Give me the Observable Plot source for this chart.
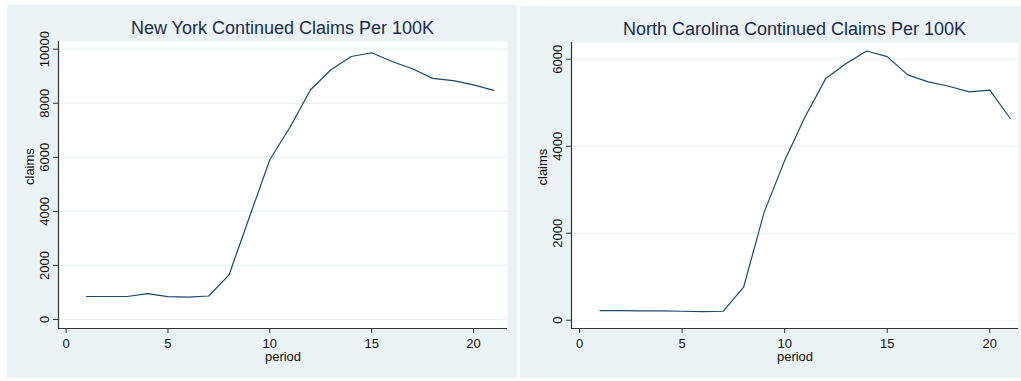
<!DOCTYPE html>
<html>
<head>
<meta charset="utf-8">
<script src="https://cdn.jsdelivr.net/npm/d3@7"></script>
<script src="https://cdn.jsdelivr.net/npm/@observablehq/plot@0.6"></script>
<style>
  body { margin: 0; background: #ffffff; width: 1021px; height: 381px; position: relative; overflow: hidden;
         font-family: "Liberation Sans", Arial, sans-serif; }
  .panel { position: absolute; background: #eaf2f3; }
  .title { position: absolute; font-size: 18px; line-height: 18px; color: #1c2c4f; text-align: center; white-space: nowrap; }
  .chart { position: absolute; left: 0; }
  .chart svg { overflow: visible; }
</style>
</head>
<body>
<div class="panel" style="left:7px;top:5px;width:510px;height:373px">
  <div class="title" style="top:14px;left:51px;width:449px">New York Continued Claims Per 100K</div>
  <div class="chart" id="ny" style="top:31px"></div>
</div>
<div class="panel" style="left:520px;top:6px;width:501px;height:372px">
  <div class="title" style="top:14px;left:51px;width:447px">North Carolina Continued Claims Per 100K</div>
  <div class="chart" id="nc" style="top:30px"></div>
</div>
<script>
// ---- data ----
const period = [1, 2, 3, 4, 5, 6, 7, 8, 9, 10, 11, 12, 13, 14, 15, 16, 17, 18, 19, 20, 21];
const nyClaims = [850, 850, 850, 955, 845, 830, 870, 1650, 3790, 5910, 7120, 8500, 9240, 9730, 9870, 9545, 9275, 8920, 8840, 8680, 8475];
const ncClaims = [222, 220, 217, 213, 207, 200, 206, 763, 2480, 3670, 4680, 5555, 5900, 6190, 6060, 5640, 5480, 5380, 5250, 5290, 4638];
const xTicks = [0, 5, 10, 15, 20];
const nyYTicks = [0, 2000, 4000, 6000, 8000, 10000];
const ncYTicks = [0, 2000, 4000, 6000];
const xLabel = "period";
const yLabel = "claims";

const lineColor = "#1a476f";
const axisColor = "#333333";
const gridColor = "#eaf2f3";

function makeChart({values, yTicks, xDomain, yDomain, width, height, margins}) {
  const data = period.map((p, i) => ({period: p, claims: values[i]}));
  return Plot.plot({
    width, height,
    marginLeft: margins[0], marginRight: margins[1], marginTop: margins[2], marginBottom: margins[3],
    style: {background: "#ffffff00", fontFamily: "Liberation Sans, Arial, sans-serif", fontSize: "13px", color: "#111", overflow: "visible"},
    x: {domain: xDomain},
    y: {domain: yDomain},
    marks: [
      Plot.frame({fill: "#ffffff", stroke: "none"}),
      Plot.gridY(yTicks, {stroke: gridColor, strokeOpacity: 1, strokeWidth: 1.2}),
      Plot.ruleX([xDomain[0]], {stroke: axisColor, strokeWidth: 1.2}),
      Plot.ruleY([yDomain[0]], {stroke: axisColor, strokeWidth: 1.2}),
      Plot.axisY({ticks: yTicks, tickSize: 5, tickPadding: 5, tickRotate: -90, label: null, stroke: axisColor, tickFormat: d => String(d)}),
      Plot.axisX({ticks: xTicks, tickSize: 5, tickPadding: 5, label: null, stroke: axisColor, tickFormat: d => String(d)}),
      Plot.text([xLabel], {frameAnchor: "bottom", dy: 32, text: d => d, fill: "#111"}),
      Plot.text([yLabel], {frameAnchor: "left", dx: -29, rotate: -90, text: d => d, fill: "#111"}),
      Plot.line(data, {x: "period", y: "claims", stroke: lineColor, strokeWidth: 1.2})
    ]
  });
}

document.getElementById("ny").append(makeChart({
  values: nyClaims, yTicks: nyYTicks,
  xDomain: [-0.374, 21.67], yDomain: [-333, 10285],
  width: 510, height: 342, margins: [51, 10, 5, 50]
}));
document.getElementById("nc").append(makeChart({
  values: ncClaims, yTicks: ncYTicks,
  xDomain: [-0.39, 21.4], yDomain: [-190, 6385],
  width: 501, height: 342, margins: [51, 3, 6, 50]
}));
</script>
</body>
</html>
